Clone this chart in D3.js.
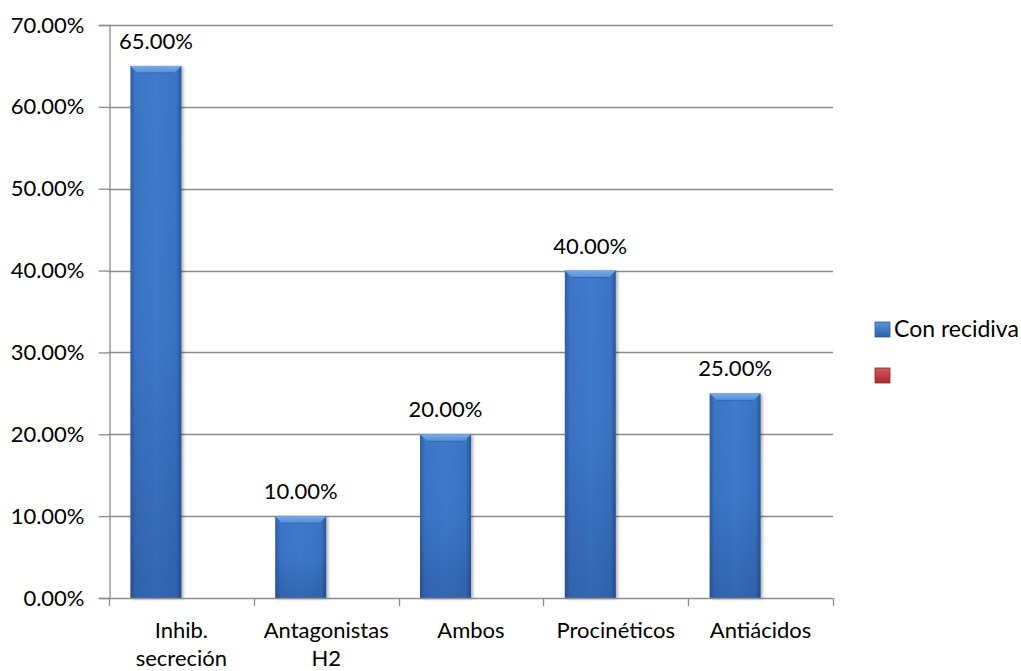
<!DOCTYPE html>
<html>
<head>
<meta charset="utf-8">
<script src="https://cdn.jsdelivr.net/npm/d3@7/dist/d3.min.js"></script>
<style>
  html, body { margin: 0; padding: 0; background: #fff; }
  svg text { font-family: Lato, "Open Sans", sans-serif; fill: #000; }
</style>
</head>
<body>
<svg id="chart" width="1021" height="671"></svg>
<script>
// ---- data ----
const categories = ["Inhib.\nsecreción", "Antagonistas\nH2", "Ambos", "Procinéticos", "Antiácidos"];
const seriesNames = ["Con recidiva", ""];
const conRecidiva = [0.65, 0.10, 0.20, 0.40, 0.25];
const serie2 = [null, null, null, null, null];
const yTicks = [0, 0.1, 0.2, 0.3, 0.4, 0.5, 0.6, 0.7];
const seriesValues = [conRecidiva, serie2];

// ---- layout ----
const plot = { left: 109, right: 833, top: 25, bottom: 598 };
const fontSize = 22;

const svg = d3.select("#chart");
const defs = svg.append("defs");

// gradients
const gH = defs.append("linearGradient").attr("id", "gBlueH").attr("x1", 0).attr("x2", 1).attr("y1", 0).attr("y2", 0);
[[0, "#2d5ea3"], [0.1, "#3b75c5"], [0.5, "#3f7bcc"], [0.9, "#3a74c3"], [1, "#28579a"]].forEach(s =>
  gH.append("stop").attr("offset", s[0]).attr("stop-color", s[1]));
const gV = defs.append("linearGradient").attr("id", "gShadeV").attr("x1", 0).attr("x2", 0).attr("y1", 0).attr("y2", 1);
[[0, "rgb(10,20,70)", 0], [0.5, "rgb(10,20,70)", 0.03], [1, "rgb(10,20,70)", 0.2]].forEach(s =>
  gV.append("stop").attr("offset", s[0]).attr("stop-color", s[1]).attr("stop-opacity", s[2]));
const gTop = defs.append("linearGradient").attr("id", "gTop").attr("x1", 0).attr("x2", 0).attr("y1", 0).attr("y2", 1);
[[0, "#78aae6"], [1, "#5290da"]].forEach(s =>
  gTop.append("stop").attr("offset", s[0]).attr("stop-color", s[1]));
const gRed = defs.append("linearGradient").attr("id", "gRed").attr("x1", 0).attr("x2", 0).attr("y1", 0).attr("y2", 1);
[[0, "#d9575a"], [1, "#a32b2e"]].forEach(s =>
  gRed.append("stop").attr("offset", s[0]).attr("stop-color", s[1]));
const gBlueLeg = defs.append("linearGradient").attr("id", "gBlueLeg").attr("x1", 0).attr("x2", 0).attr("y1", 0).attr("y2", 1);
[[0, "#5d95dc"], [1, "#2c5ea4"]].forEach(s =>
  gBlueLeg.append("stop").attr("offset", s[0]).attr("stop-color", s[1]));

const f = defs.append("filter").attr("id", "shadow").attr("x", "-20%").attr("y", "-5%").attr("width", "140%").attr("height", "110%");
f.append("feDropShadow").attr("dx", 2).attr("dy", 1).attr("stdDeviation", 1.5).attr("flood-color", "#000").attr("flood-opacity", 0.3);

// scales
const x0 = d3.scaleBand().domain(categories).range([plot.left, plot.right]).paddingInner(0).paddingOuter(0);
const x1 = d3.scaleBand().domain(seriesNames.map((d, i) => i)).range([0, x0.bandwidth()]).paddingInner(0).paddingOuter(0.42);
const y = d3.scaleLinear().domain([0, 0.7]).range([plot.bottom, plot.top]);

// gridlines
svg.append("g").selectAll("line").data(yTicks.filter(t => t > 0)).join("line")
  .attr("x1", plot.left).attr("x2", plot.right)
  .attr("y1", d => Math.round(y(d)) + 0.5).attr("y2", d => Math.round(y(d)) + 0.5)
  .attr("stroke", "#8c8c8c").attr("stroke-width", 1.3);

// y axis
const yAxis = svg.append("g").attr("transform", `translate(${plot.left + 0.5},0)`)
  .call(d3.axisLeft(y).tickValues(yTicks).tickFormat(d3.format(".2%")).tickSize(11).tickPadding(14));
yAxis.select(".domain").attr("stroke", "#8c8c8c").attr("stroke-width", 1.3);
yAxis.selectAll(".tick line").attr("stroke", "#8c8c8c").attr("stroke-width", 1.3);
yAxis.selectAll(".tick text").attr("font-size", fontSize).attr("font-family", "Lato, sans-serif").attr("fill", "#000");

// bars
const bars = svg.append("g");
categories.forEach((c, ci) => {
  seriesValues.forEach((vals, si) => {
    const v = vals[ci];
    if (v == null) return;
    const bx = x0(c) + x1(si), bw = x1.bandwidth();
    const by = y(v), bh = y(0) - y(v);
    const g = bars.append("g");
    g.append("rect").attr("x", bx).attr("y", by).attr("width", bw).attr("height", bh)
      .attr("fill", "url(#gBlueH)").attr("filter", "url(#shadow)");
    g.append("rect").attr("x", bx).attr("y", by).attr("width", bw).attr("height", bh)
      .attr("fill", "url(#gShadeV)");
    const bev = 7;
    g.append("polygon")
      .attr("points", [[bx, by], [bx + bw, by], [bx + bw - bev, by + bev], [bx + bev, by + bev]].map(p => p.join(",")).join(" "))
      .attr("fill", "url(#gTop)");
    g.append("line").attr("x1", bx + bev).attr("x2", bx + bw - bev).attr("y1", by + bev).attr("y2", by + bev)
      .attr("stroke", "#3466b0").attr("stroke-width", 1);
    // data label
    svg.append("text").attr("x", bx + bw / 2).attr("y", by - 17)
      .attr("text-anchor", "middle").attr("font-size", fontSize)
      .text(d3.format(".2%")(v));
  });
});

// x axis
svg.append("line").attr("x1", plot.left).attr("x2", plot.right)
  .attr("y1", plot.bottom + 0.5).attr("y2", plot.bottom + 0.5)
  .attr("stroke", "#8c8c8c").attr("stroke-width", 1.6);
const xTickPos = categories.map(c => x0(c)).concat([plot.right]);
svg.append("g").selectAll("line").data(xTickPos).join("line")
  .attr("x1", d => Math.round(d) + 0.5).attr("x2", d => Math.round(d) + 0.5)
  .attr("y1", plot.bottom).attr("y2", plot.bottom + 8)
  .attr("stroke", "#8c8c8c").attr("stroke-width", 1.3);

const xl = svg.append("g").selectAll("text").data(categories).join("text")
  .attr("x", d => x0(d) + x0.bandwidth() / 2)
  .attr("y", 638).attr("text-anchor", "middle").attr("font-size", fontSize);
xl.each(function(d) {
  const lines = d.split("\n");
  const t = d3.select(this);
  lines.forEach((ln, i) => {
    t.append("tspan").attr("x", x0(d) + x0.bandwidth() / 2).attr("dy", i === 0 ? 0 : 28).text(ln);
  });
});

// legend
const legend = svg.append("g");
seriesNames.forEach((name, i) => {
  const ly = 322 + i * 46;
  legend.append("rect").attr("x", 875).attr("y", ly).attr("width", 15).attr("height", 15)
    .attr("fill", i === 0 ? "url(#gBlueLeg)" : "url(#gRed)")
    .attr("stroke", i === 0 ? "#2b5a9c" : "#8e2326").attr("stroke-width", 0.8);
  legend.append("text").attr("x", 894).attr("y", ly + 15).attr("font-size", 23).text(name);
});
</script>
</body>
</html>
